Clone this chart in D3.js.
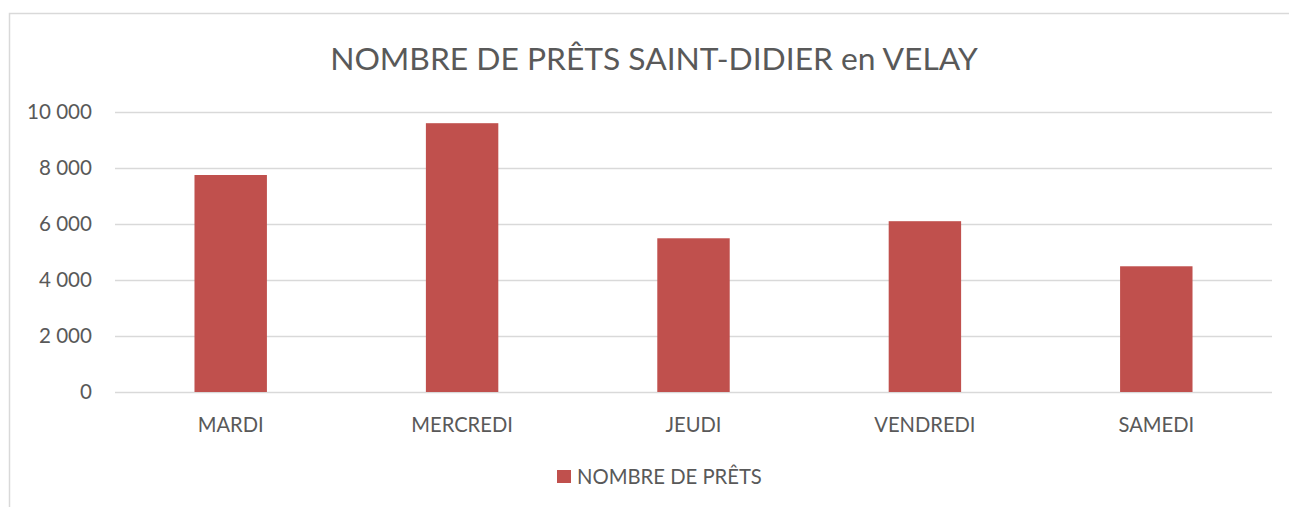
<!DOCTYPE html>
<html><head><meta charset="utf-8">
<script src="https://cdn.jsdelivr.net/npm/d3@7"></script>
<style>body{margin:0;background:#fff;} svg{display:block;}</style>
</head><body>
<script>
const categories = ["MARDI","MERCREDI","JEUDI","VENDREDI","SAMEDI"];
const values = [7750, 9600, 5490, 6100, 4490];
const yTicks = [0, 2000, 4000, 6000, 8000, 10000];
const seriesName = "NOMBRE DE PRÊTS";
const title = "NOMBRE DE PRÊTS SAINT-DIDIER en VELAY";

const W = 1289, H = 507;
const FONT = "Lato, 'Open Sans', sans-serif";
const TXT = "#595959", GRID = "#D9D9D9", BAR = "#C0504D";
const svg = d3.select("body").append("svg").attr("width", W).attr("height", H);

// frame
svg.append("rect").attr("x", 9.5).attr("y", 13.5).attr("width", 1290).attr("height", 520)
  .attr("fill", "#fff").attr("stroke", GRID).attr("stroke-width", 1.5);

const plot = {left: 115, right: 1272, top: 112, bottom: 392};
const x = d3.scaleBand().domain(categories).range([plot.left, plot.right]).paddingInner(0.687).paddingOuter(0.3435);
const y = d3.scaleLinear().domain([0, 10000]).range([plot.bottom, plot.top]);

function fit(sel, target, base) {
  sel.attr("font-size", base);
  const w = sel.node().getComputedTextLength();
  sel.attr("font-size", base * target / w);
}

// gridlines
svg.append("g").selectAll("line").data(yTicks).join("line")
  .attr("x1", plot.left).attr("x2", plot.right)
  .attr("y1", d => Math.round(y(d)) + 0.5).attr("y2", d => Math.round(y(d)) + 0.5)
  .attr("stroke", GRID).attr("stroke-width", 1.5);

// bars
svg.append("g").selectAll("rect").data(values).join("rect")
  .attr("x", (d, i) => x(categories[i])).attr("width", x.bandwidth())
  .attr("y", d => y(d)).attr("height", d => y(0) - y(d))
  .attr("fill", BAR);

// y axis labels
const fmt = d => d3.format(",")(d).replace(/,/g, " ");
const yl = svg.append("g").selectAll("text").data(yTicks).join("text")
  .attr("x", 92).attr("y", d => y(d)).attr("dy", "0.35em")
  .attr("text-anchor", "end").attr("fill", TXT).attr("font-family", FONT)
  .text(fmt);
fit(yl.filter(d => d === 10000), 65, 20);
yl.attr("font-size", yl.filter(d => d === 10000).attr("font-size"));

// x axis labels
const xl = svg.append("g").selectAll("text").data(categories).join("text")
  .attr("x", d => x(d) + x.bandwidth() / 2).attr("y", 432)
  .attr("text-anchor", "middle").attr("fill", TXT).attr("font-family", FONT)
  .text(d => d);
fit(xl.filter(d => d === "MARDI"), 66, 20);
xl.attr("font-size", xl.filter(d => d === "MARDI").attr("font-size"));

// title
const t = svg.append("text").attr("x", 654).attr("y", 70).attr("text-anchor", "middle")
  .attr("fill", TXT).attr("font-family", FONT).text(title);
fit(t, 648, 30);

// legend
svg.append("rect").attr("x", 557).attr("y", 470).attr("width", 14).attr("height", 13).attr("fill", BAR);
const lt = svg.append("text").attr("x", 577).attr("y", 483.5).attr("fill", TXT).attr("font-family", FONT).text(seriesName);
fit(lt, 185, 20);
</script>
</body></html>
